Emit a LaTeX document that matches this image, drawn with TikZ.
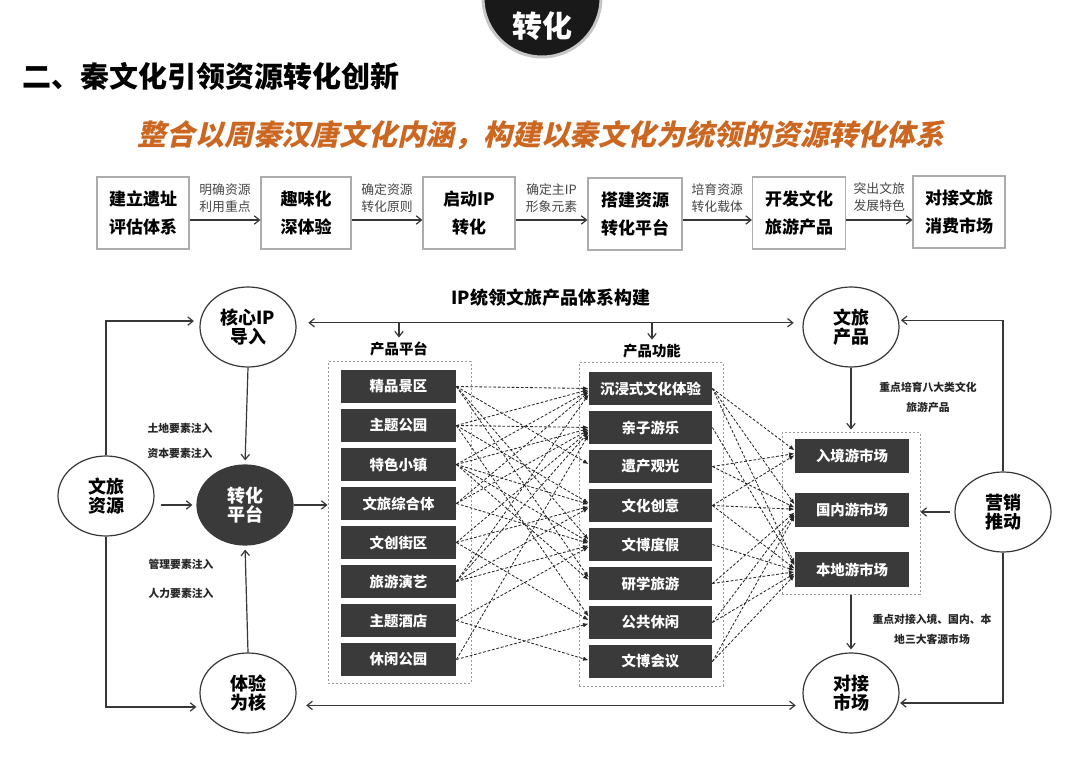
\documentclass[tikz,border=0pt]{standalone}
\usepackage{fontspec}
\setmainfont{Noto Sans CJK SC}
\newfontfamily\slantf[FakeSlant=0.22]{Noto Sans CJK SC}
\usetikzlibrary{shapes.geometric,arrows.meta,calc}
\definecolor{dk}{RGB}{58,58,58}
\definecolor{ln}{RGB}{55,55,55}
\definecolor{orng}{RGB}{203,103,33}
\definecolor{lbl}{RGB}{70,70,70}
\begin{document}
\begin{tikzpicture}[x=0.5pt,y=-0.5pt,
  flowbox/.style={draw=gray!65, line width=0.6pt, fill=white, minimum height=36pt, align=center, inner sep=0pt, font=\bfseries\fontsize{8.5}{14}\selectfont},
  flowlbl/.style={align=center, text=lbl, inner sep=0pt, font=\fontsize{6.4}{8.5}\selectfont},
  ell/.style={ellipse, draw=ln, line width=0.6pt, minimum width=48pt, minimum height=40pt, inner sep=0pt, align=center, font=\bfseries\fontsize{9}{9.8}\selectfont},
  dbox/.style={fill=dk, text=white, minimum height=16.5pt, inner sep=0pt, font=\bfseries\fontsize{7.2}{8}\selectfont},
  dashbox/.style={draw=gray!80, dash pattern=on 1.2pt off 0.8pt, line width=0.5pt, inner sep=0pt},
  sidelbl/.style={inner sep=0pt, align=center, font=\bfseries\fontsize{5.4}{10}\selectfont, text=black!85},
  arr/.style={draw=ln, line width=0.6pt, -{Straight Barb[length=2.6pt,width=4.2pt]}},
  arrr/.style={draw=ln, line width=0.6pt, {Straight Barb[length=2.6pt,width=4.2pt]}-{Straight Barb[length=2.6pt,width=4.2pt]}},
  darr/.style={draw=black!85, line width=0.42pt, dash pattern=on 1.4pt off 0.9pt, -{Latex[length=2.8pt,width=2.2pt]}}
]
\useasboundingbox (0,0) rectangle (1080,763);
\fill[white] (0,0) rectangle (1080,763);

% badge
\node[circle, fill=black!90, draw=gray!45, line width=1.5pt, minimum size=59pt, inner sep=0pt] (badge) at (542,-2) {};
\node[text=white, inner sep=0pt, font=\bfseries\fontsize{15}{15}\selectfont] (badgetxt) at (542,26) {转化};

% titles
\node[anchor=west, inner sep=0pt, font=\bfseries\fontsize{14.5}{15}\selectfont] (title) at (22,76) {二、秦文化引领资源转化创新};
\node[inner sep=0pt, text=orng, font=\slantf\bfseries\fontsize{14.4}{15}\selectfont] (sub) at (541,135) {整合以周秦汉唐文化内涵，构建以秦文化为统领的资源转化体系};

% flow row
\node[flowbox, minimum width=46pt] (f1) at (143,213) {建立遗址\\评估体系};
\node[flowbox, minimum width=45pt] (f2) at (306,213) {趣味化\\深体验};
\node[flowbox, minimum width=46pt] (f3) at (469,213) {启动IP\\转化};
\node[flowbox, minimum width=47pt] (f4) at (635,214) {搭建资源\\转化平台};
\node[flowbox, minimum width=46.5pt] (f5) at (799,213) {开发文化\\旅游产品};
\node[flowbox, minimum width=46pt] (f6) at (959,212) {对接文旅\\消费市场};
\foreach \a/\b/\t in {f1/f2/{明确资源\\利用重点}, f2/f3/{确定资源\\转化原则}, f3/f4/{确定主IP\\形象元素}, f4/f5/{培育资源\\转化载体}, f5/f6/{突出文旅\\发展特色}} {
  \draw[arr] (\a.east |- 0,220) -- (\b.west |- 0,220);
  \node[flowlbl] at ($(\a.east)!0.5!(\b.west)+(0,-15)$) {\t};
}

% lower diagram title
\node[inner sep=0pt, font=\bfseries\fontsize{9}{10}\selectfont] (ipt) at (551,298) {IP统领文旅产品体系构建};

% ellipses
\node[ell] (core) at (248,327) {核心IP\\导入};
\node[ell, fill=dk, draw=dk, text=white] (plat) at (245,505) {转化\\平台};
\node[ell] (res) at (106,496) {文旅\\资源};
\node[ell] (exp) at (248,693) {体验\\为核};
\node[ell] (prod) at (851,327) {文旅\\产品};
\node[ell] (mkt) at (1003,512) {营销\\推动};
\node[ell] (conn) at (851,693) {对接\\市场};

% side labels
\node[sidelbl] (l1) at (180,428) {土地要素注入};
\node[sidelbl] (l2) at (180,453) {资本要素注入};
\node[sidelbl] (l3) at (181,564) {管理要素注入};
\node[sidelbl] (l4) at (181,593) {人力要素注入};
\node[sidelbl] (l5) at (928,397) {重点培育八大类文化\\旅游产品};
\node[sidelbl] (l6) at (932,629) {重点对接入境、国内、本\\地三大客源市场};

% group boxes
\node[dashbox, minimum width=71.5pt, minimum height=160.5pt] (pbox) at (399.5,522.5) {};
\node[dashbox, minimum width=72pt, minimum height=161.5pt] (fbox) at (651,524.5) {};
\node[dashbox, minimum width=69pt, minimum height=80.5pt] (mbox) at (851,513.5) {};
\node[inner sep=0pt, font=\bfseries\fontsize{7.2}{8}\selectfont] (lp) at (399,349) {产品平台};
\node[inner sep=0pt, font=\bfseries\fontsize{7.2}{8}\selectfont] (lf) at (652,351) {产品功能};

% dark boxes
\foreach \i/\t in {1/精品景区,2/主题公园,3/特色小镇,4/文旅综合体,5/文创街区,6/旅游演艺,7/主题酒店,8/休闲公园} {
  \node[dbox, minimum width=57.5pt] (p\i) at (398.5,{386.5+(\i-1)*39}) {\t};
}
\foreach \i/\t in {1/沉浸式文化体验,2/亲子游乐,3/遗产观光,4/文化创意,5/文博度假,6/研学旅游,7/公共休闲,8/文博会议} {
  \node[dbox, minimum width=61.5pt] (g\i) at (650.5,{388.5+(\i-1)*39}) {\t};
}
\node[dbox, minimum width=57pt, minimum height=17pt] (m1) at (852,456) {入境游市场};
\node[dbox, minimum width=57pt, minimum height=17pt] (m2) at (852,510) {国内游市场};
\node[dbox, minimum width=57pt, minimum height=17pt] (m3) at (852,569.5) {本地游市场};

% solid connectors
\draw[arr] (res.north) |- ([xshift=-3pt]core.173);
\draw[arr] (res.south) |- ([xshift=-3pt]exp.197);
\draw[arr, shorten <=3pt, shorten >=2pt] (res.east |- plat.west) -- (plat.west);
\draw[arr, shorten >=2pt] (core.south) -- (plat.north);
\draw[arr, shorten >=2pt] (exp.north) -- (plat.south);
\draw[arr] (plat.east) -- (plat.east -| pbox.west);
\draw[arrr, shorten <=6pt, shorten >=4.5pt] (core.5) -- (prod.175);
\draw[arrr, shorten <=6pt, shorten >=4.5pt] (exp.345) -- (conn.195);
\coordinate (t1) at (399,322);
\coordinate (t2) at (652,322);
\draw[arr] (t1) -- ([yshift=2pt]lp.north);
\draw[arr] (t2) -- ([yshift=2pt]lf.north);
\draw[arr] (mkt.north) |- ([xshift=1pt]prod.8);
\draw[arr] (mkt.south) |- ([xshift=1pt]conn.348);
\draw[arr, shorten <=2pt] (mkt.west) -- (mkt.west -| mbox.east);
\draw[arr, shorten >=1.5pt] (prod.south) -- (mbox.north);
\draw[arr, shorten >=1.5pt] (mbox.south) -- (conn.north);

% dashed connectors platforms -> functions
\foreach \s/\t in {1/1,1/3,1/5,1/6, 2/1,2/2,2/4,2/7, 3/1,3/2,3/4,3/5,3/6, 4/1,4/2,4/5, 5/2,5/4,5/7, 6/1,6/2,6/4,6/5, 7/5,7/8, 8/2,8/7} {
  \draw[darr] (p\s.east) -- ($(g\t.west)+(0,{(\s-\t)*1.2})$);
}
% dashed connectors functions -> markets
\foreach \s/\t in {1/1,1/2,1/3, 2/3, 3/1,3/2, 4/1,4/2,4/3, 5/3, 6/2,6/3, 7/2,7/3, 8/2,8/3} {
  \draw[darr] (g\s.east) -- ($(m\t.west)+(0,{(\s-4.5)*1.6})$);
}
\end{tikzpicture}
\end{document}
